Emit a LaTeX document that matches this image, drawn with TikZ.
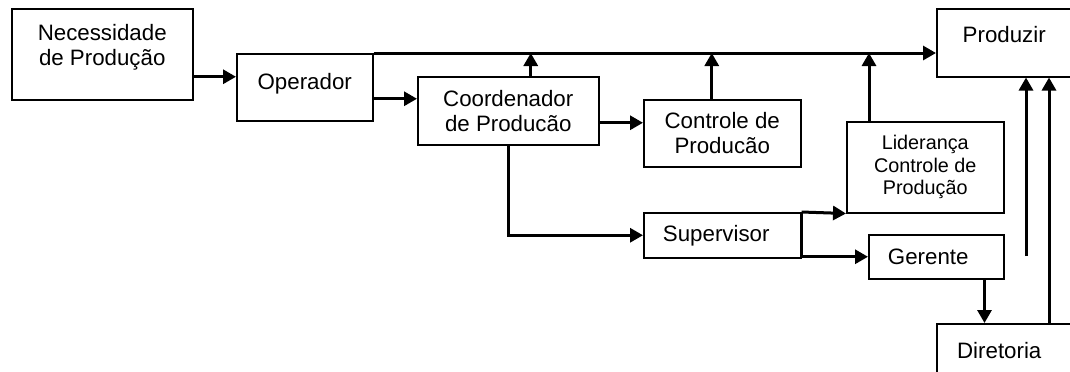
\documentclass[tikz,border=0pt]{standalone}
\usepackage{fontspec}
\setmainfont{Liberation Sans}
\usetikzlibrary{arrows.meta}

\begin{document}
\begin{tikzpicture}[x=0.5pt,y=-0.5pt,
	bloco/.style={draw,line width=0.75pt,anchor=north west,align=center,inner sep=0pt,
		font=\fontsize{11.15}{12.5}\selectfont},
	seta/.style={-{Triangle[length=6.5pt,width=7pt]},line width=1.5pt}]
  \useasboundingbox (0,0) rectangle (1070,371);

  \node[bloco,minimum width=90.5pt,minimum height=45.5pt,text depth=9.8pt]	(nec)	at (11,8)	{Necessidade\\de Produção};
  \node[bloco,minimum width=68pt,minimum height=33.5pt,text depth=5.8pt]	(op)	at (236,53)	{Operador};
  \node[bloco,minimum width=90.5pt,minimum height=34pt]			(coord)	at (417,76)	{Coordenador\\de Producão};
  \node[bloco,minimum width=78.5pt,minimum height=33.5pt]			(ctrl)	at (643,99)	{Controle de\\Producão};
  \node[bloco,minimum width=78.5pt,minimum height=45.5pt,
	font=\fontsize{9.9}{11.25}\selectfont]					(lid)	at (846,121)	{Liderança\\Controle de\\Produção};
  \node[bloco,minimum width=78.5pt,minimum height=22.5pt]			(sup)	at (643,212)	{Supervisor\hspace*{6pt}};
  \node[bloco,minimum width=67.5pt,minimum height=22pt]			(ger)	at (868,234)	{Gerente\hspace*{8pt}};
  \node[bloco,minimum width=67.5pt,minimum height=34pt,text depth=8.5pt]	(prod)	at (936,8)	{Produzir};
  \node[bloco,minimum width=67.5pt,minimum height=26.5pt]			(dir)	at (936,323)	{Diretoria\hspace*{5pt}};
  \coordinate (solto) at (1026,256);

  \draw[seta] ([yshift=-11.25pt]nec.east) -- ([yshift=-11.25pt]nec.east -| op.west);
  \draw[seta] ([yshift=-5.75pt]op.east) -- ([yshift=-5.75pt]op.east -| coord.west);
  \draw[seta] ([yshift=-6pt]coord.east) -- ([yshift=-6pt]coord.east -| ctrl.west);
  \draw[seta] (op.north east) -- (op.north east -| prod.west);
  \draw[seta] ([xshift=11.25pt]coord.north) -- ([xshift=11.25pt]coord.north |- op.north);
  \draw[seta] ([xshift=-5.25pt]ctrl.north) -- ([xshift=-5.25pt]ctrl.north |- op.north);
  \draw[seta] ([xshift=11.5pt]lid.north west) -- ([xshift=11.5pt]lid.north west |- op.north);
  \draw[seta] (coord.south) |- (sup.west);
  \draw[seta] (sup.north east) -- (lid.south west);
  \draw[seta] (sup.north east) |- (ger.west);
  \draw[seta] ([xshift=-10pt]ger.south east) -- ([xshift=-10pt]ger.south east |- dir.north);
  \draw[seta] (solto) -- (solto |- prod.south);
  \draw[seta] ([xshift=56.5pt]dir.north west) -- ([xshift=56.5pt]dir.north west |- prod.south);
\end{tikzpicture}
\end{document}
